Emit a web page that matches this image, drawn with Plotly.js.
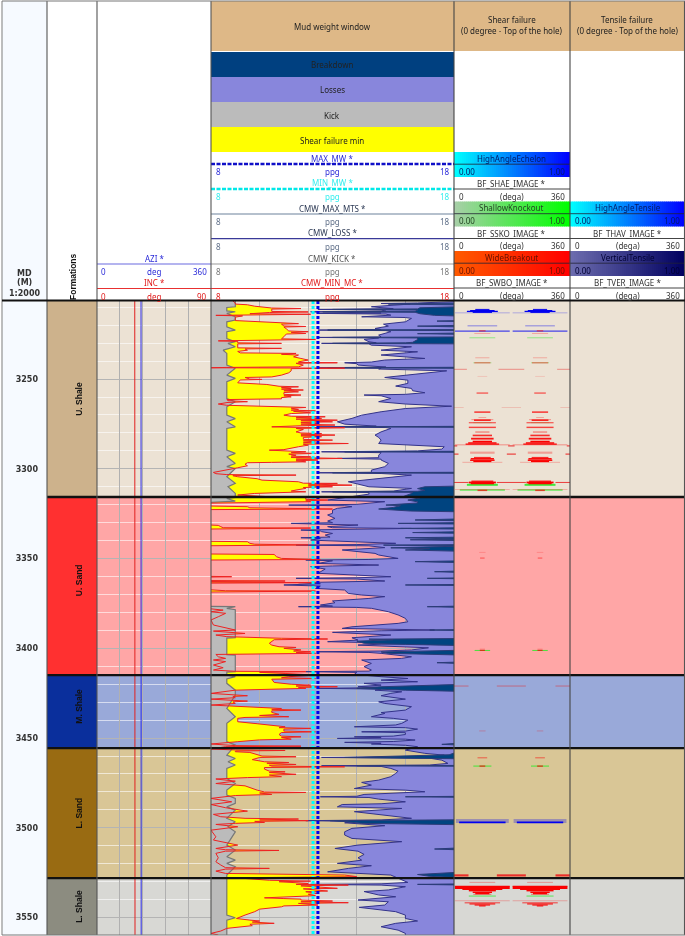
<!DOCTYPE html>
<html><head><meta charset="utf-8">
<script src="https://cdn.plot.ly/plotly-3.0.1.min.js"></script>
<style>html,body{margin:0;padding:0;background:#fff}#chart{width:685px;height:936px;filter:blur(0.35px)}</style>
</head><body><div id="chart"></div>
<script>
// ---------- data ----------
const depthTop = 3206.5, depthBottom = 3559.7;

const formationNames  = ['U. Shale','U. Sand','M. Shale','L. Sand','L. Shale'];
const formationTops   = [3206.5,3315.7,3414.9,3455.6,3528.0];
const formationBases  = [3315.7,3414.9,3455.6,3528.0,3559.7];
const formationLabelDepth = [3261,3362,3432.5,3492,3544];
const formationFill   = ['#ece2d4','#ffa6a6','#99a9d9','#d9c696','#d8d8d4'];
const formationStrip  = ['#cdb28c','#ff3030','#0a2f9c','#996b12','#8c8c80'];

const incDepths = [3206.5,3300,3400,3559.7];
const incDeg    = [29.8,29.9,30.0,30.0];
const aziDepths = [3206.5,3300,3400,3559.7];
const aziDeg    = [139,139,139.5,139.5];

const minMw = [12.2,12.2];
const maxMw = [12.4,12.4];
const mwDepths = [3206.5,3559.7];

// [depth, ppg]
const kickPts = [[3206.5,9],[3209.7,9],[3210.1,8.65],[3212,8.65],[3212.5,9],[3213.4,8.65],[3215.3,9],[3217.1,9],[3218.1,8.65],[3220.9,8.65],[3222.7,9],[3223.6,8.65],[3227.4,8.65],[3229.2,9],[3230.1,8.7],[3232,9],[3233.9,8.5],[3235.7,8.65],[3242.2,8.65],[3244,9],[3247.8,8.65],[3249.6,9],[3251.5,8.65],[3260.8,8.65],[3262.6,9],[3265.4,8.65],[3270.1,8.65],[3272,9],[3273.8,8.65],[3276.6,9],[3277.5,8.65],[3289.6,8.65],[3291.4,9],[3293.3,8.65],[3297,9],[3298.8,8.65],[3299.8,9],[3304.4,8.65],[3308.1,9],[3310,8.7],[3313.7,9],[3316,9],
 [3316.5,8.65],[3318,9],[3319,7.5],[3376.5,7.5],[3376.8,9],[3377.7,8.65],[3378.5,9],[3394,9],[3394.3,8.65],[3403.5,8.65],[3403.8,9],[3413,9],[3413.2,8.65],[3414.9,8.65],
 [3415.8,9],[3417.1,8.65],[3419.5,8.65],[3423.3,9],[3426,9],[3433.5,8.65],[3438.1,9],[3441.8,8.65],[3452,8.65],[3453.9,9],[3459.5,8.65],[3461.4,9],[3463.2,8.7],[3465,9],[3466.9,8.65],[3472.5,8.65],[3475.3,9],[3479,8.65],[3481.8,8.65],[3483.6,9],[3486.4,9],[3488.3,8.65],[3490.1,9],[3494.7,8.65],[3496.6,9],[3499.4,8.7],[3502.2,9],[3509.6,8.65],[3512.4,9],[3516.1,8.65],[3518,9],[3519.8,8.65],[3521.7,9],[3526.3,8.65],[3548.6,8.65],[3550.1,9],[3551.4,8.65],[3559.7,8.65]];

const mcPts = [[3206.5,8.9],[3207.6,9],[3208.2,9],[3208.6,9.5],[3209.4,9.8],[3210,10.4],[3210.4,10.5],[3210.7,11.7],[3211,10.5],[3212.3,10.5],[3212.6,12],[3212.9,10.4],[3213.6,9.6],[3213.9,12.1],[3214.2,9],[3214.5,8.2],[3214.8,9.3],[3215.5,9],[3217.4,9],[3218.1,10],[3218.8,10.9],[3219.1,11.6],[3219.4,10.9],[3220.4,11],[3220.7,11.9],[3221,11],[3222,11.1],[3223.2,11.2],[3223.6,12],[3224,11.3],[3224.6,11.9],[3224.9,11.1],[3226.4,11],[3227.6,10.9],[3227.9,12.3],[3228.2,9.5],[3228.7,8.3],[3229,9.1],[3229.8,9.1],[3230.1,10.9],[3230.4,9.1],[3232.6,9.1],[3232.9,10.9],[3233.2,9.4],[3233.9,9.5],[3234.6,9.1],[3235.4,9.2],[3235.7,11.5],[3236.2,10.9],[3236.6,11.6],[3237.6,11.4],[3238.5,11.7],[3239.4,12],[3240.4,11.6],[3240.7,11.6],[3240.9,13.2],[3241.2,11.5],[3242.2,11.8],[3243.2,11.6],[3243.5,8.65],[3243.7,8],[3243.9,13.5],[3244.2,11.3],[3245.4,11.3],[3246.5,11.2],[3247.8,10.9],[3248.8,10.5],[3249.1,9.4],[3250,9.6],[3250.2,10.1],[3250.5,9.2],[3252.1,9.1],[3253,10.3],[3254,10.8],[3254.3,11.6],[3254.7,10.9],[3255.2,11.3],[3255.6,10.9],[3256.1,11.8],[3256.5,11],[3257.1,11.6],[3257.5,11],[3258.5,11],[3258.9,11.7],[3259.3,11],[3259.9,11.3],[3260.3,10.9],[3261,10.9],[3261.4,8.65],[3262,8.7],[3262.6,9.5],[3263,8.7],[3263.9,8.3],[3264.6,8.65],[3265,10.2],[3265.4,11],[3265.8,11.9],[3266.2,11.3],[3266.9,11.6],[3267.3,11.3],[3267.7,12.3],[3268,11.4],[3268.8,12.1],[3269.2,11.3],[3270.1,11],[3270.7,11.3],[3271,12.7],[3271.3,11.5],[3271.9,12.55],[3272.3,11.5],[3272.9,13.2],[3273.2,11.7],[3273.8,13],[3274.2,11.7],[3274.7,12.4],[3275.1,11.7],[3275.6,13.1],[3276,11.7],[3276.6,10.5],[3276.9,11.5],[3277.1,13.5],[3277.5,11.5],[3278.1,11.8],[3279.4,11.5],[3280,11.7],[3280.3,12.55],[3280.7,11.7],[3281.2,13.1],[3281.6,11.7],[3282.1,12.55],[3282.5,11.8],[3283.6,11.8],[3284,13],[3284.4,11.8],[3284.9,12.3],[3285.5,11.8],[3285.9,13.65],[3286.3,11.8],[3286.8,12],[3287.7,11.6],[3288.6,11.3],[3289.3,11],[3289.6,10.4],[3290,11.2],[3290.5,11.9],[3291,11.3],[3291.4,12.3],[3291.8,11.2],[3292.4,11.5],[3292.9,11.3],[3293.3,12.1],[3293.7,11.3],[3294.2,13.4],[3294.6,11.5],[3295.1,12.4],[3295.5,11.5],[3296.1,11.9],[3296.4,10.5],[3296.6,9.5],[3297.4,9.4],[3298.3,9.5],[3299.4,9.1],[3300.7,8.6],[3302,8.1],[3302.7,8.2],[3303.2,8.65],[3303.5,11.5],[3303.8,8.9],[3304.4,9.1],[3305.5,9.9],[3306.3,10.1],[3307,11.2],[3307.2,11.6],[3308,11.8],[3308.1,13.2],[3308.5,12],[3309.1,13.8],[3309.5,12],[3310,13],[3310.4,11.8],[3310.9,11.9],[3311.8,11.5],[3312.4,11.3],[3312.8,11.9],[3313.2,10.5],[3313.7,9.8],[3314.6,9.1],
 [3315.6,10.5],[3316,11.9],[3317,11.9],[3317.4,12.8],[3317.8,11.9],[3318.3,12.1],[3318.8,9],[3319.2,7.5],[3320.6,7.5],[3321.1,9.5],[3321.7,9.6],[3322.1,11],[3322.4,13],[3322.7,8],[3322.9,7.5],[3331,7.5],[3331.5,8.3],[3332.2,8.4],[3332.8,8.5],[3333,12.1],[3333.3,8],[3333.6,7.5],[3340.3,7.5],[3340.6,9.5],[3341.5,9.6],[3342,9.8],[3342.4,12],[3342.7,8],[3342.9,7.5],[3347.4,7.5],[3347.7,10.6],[3349,10.7],[3349.9,10.9],[3350.3,12],[3350.5,12.5],[3350.8,8],[3351,7.5],[3359.8,7.5],[3360.1,8.85],[3360.4,7.5],[3362.2,7.5],[3362.5,11.05],[3362.8,7.5],[3363.1,7.5],[3363.4,12.3],[3363.7,7.5],[3367,7.5],[3367.5,8.6],[3367.9,8.6],[3368.1,12.3],[3368.4,8],[3368.7,7.5],[3377.3,7.5],[3378.7,8.5],[3379.6,8],[3380.5,8.6],[3382.4,8.3],[3384.2,8],[3387,8.1],[3389.8,9],[3390.4,8.1],[3391.7,9.4],[3392.6,8.2],[3393.5,8.65],[3394.4,10.9],[3394.8,12.8],[3395.2,10.6],[3396,10.5],[3397.2,10.4],[3398.2,10.5],[3399.1,10.8],[3399.5,11.5],[3400,11],[3400.9,11.7],[3401.5,11.4],[3401.9,12.1],[3402.4,11.5],[3402.8,12.3],[3403.2,9],[3403.4,8.2],[3404.7,8.3],[3405.6,8.6],[3406.5,8.1],[3407.4,8.6],[3409.3,8.1],[3410.8,8.5],[3412.1,8.1],[3412.8,9],[3413,11.9],[3413.4,10],[3414,11.05],[3414.9,12.3],
 [3415.8,11.2],[3416.4,10.9],[3416.8,12.3],[3417.2,10.5],[3419,10.6],[3420,11.3],[3420.5,12.1],[3421,11.5],[3421.4,13.2],[3421.8,11.6],[3422.3,11.9],[3422.8,10],[3423.3,9],[3425.1,8],[3426,8.8],[3426.4,9.5],[3426.8,8.9],[3427.5,9],[3428.3,8],[3429,8.9],[3429.4,9.5],[3429.8,8.9],[3430.7,9],[3431.6,8],[3432.5,9.3],[3433.1,10.4],[3433.5,10.9],[3434,10.5],[3434.4,11.7],[3434.8,10.5],[3435.7,10.5],[3436.8,10.8],[3437.4,10],[3438.1,11.2],[3438.5,9.4],[3439,9.1],[3440.9,9.1],[3442,9.9],[3442.8,10.5],[3443.7,11.05],[3444.2,10.8],[3444.6,12.1],[3445,11],[3446.1,11],[3446.5,12.3],[3446.9,10.9],[3448,10.8],[3448.9,10.9],[3449.3,11.7],[3449.7,10.9],[3450.6,11.3],[3451,10],[3452,9.1],[3453.3,8],[3454.2,9],[3454.5,11.7],[3454.8,8.6],
 [3456.1,8],[3456.6,9],[3456.9,11.05],[3457.2,9],[3457.6,9],[3458,9.6],[3459.5,10],[3460,10.1],[3460.4,11.5],[3460.8,10],[3462,9.7],[3462.3,9.8],[3463.2,10.2],[3463.6,11.2],[3464,10.3],[3464.7,11.5],[3465.1,10.4],[3465.6,10.5],[3466,13.5],[3466.4,10.2],[3467.3,10.2],[3468.4,10.4],[3468.8,11.05],[3469.2,10.4],[3470.2,11.5],[3470.6,10.4],[3471.5,10.9],[3472,9.5],[3472.8,8.2],[3474,9],[3475.3,8.2],[3476.6,9.4],[3477.7,9.6],[3479,9.9],[3480,10.2],[3480.3,11.9],[3480.6,10],[3481.4,10.5],[3482,9],[3482.7,8.6],[3483.6,8],[3485.5,8.85],[3487,8],[3488.8,8.6],[3490.7,9.5],[3492.5,8.1],[3493.8,8.4],[3494.7,9.4],[3495.1,11.6],[3495.6,10],[3496,12],[3496.4,9.8],[3497,10.2],[3497.5,9],[3498.1,8.2],[3499.4,9.1],[3501.3,8],[3505,8.2],[3506.8,8.1],[3509.6,9.1],[3511.5,8.2],[3512.2,8.6],[3512.6,10.8],[3513,8.6],[3514.2,8.2],[3516.7,8.3],[3518.9,8.2],[3520.7,8.4],[3522.2,8.6],[3522.6,10.4],[3523,8.6],[3524.1,8.2],[3525.4,8.6],[3526.3,13.5],[3527.2,14],[3527.8,9],
 [3528.5,9.8],[3529.2,10.4],[3529.7,12.1],[3530,10.8],[3531,12],[3531.5,11.5],[3531.9,13.65],[3532.3,11.7],[3533.7,13.2],[3534,11.8],[3535.2,12.8],[3535.6,11.9],[3536.5,12.4],[3537,12],[3537.8,12.3],[3538.3,11.2],[3539,10.2],[3539.4,11],[3539.7,11.7],[3540.2,11.7],[3540.8,13],[3541.2,11.7],[3541.7,13.65],[3542.1,11.6],[3543,12.4],[3543.5,11],[3544,10.9],[3545.3,10],[3546.7,9.8],[3548.6,9.4],[3550.5,9.05],[3551.4,9.6],[3551.9,10],[3552.5,9.7],[3553.2,10.6],[3553.7,9.6],[3554.5,9.7],[3556,8.65],[3557.5,8.4],[3558.8,8],[3559.7,8.3]];

const lossPts = [[3206.5,18],[3206.9,18],[3207.6,16.5],[3207.9,15],[3208.2,16.2],[3208.4,16],[3209.4,15.2],[3209.7,14.6],[3210.8,15.5],[3211.2,12.4],[3211.5,15],[3212.2,15.2],[3212.5,12.1],[3212.8,15],[3213.2,15],[3213.4,12.4],[3213.8,15.2],[3214.4,15.4],[3215.3,14.2],[3215.7,16],[3216.2,16.25],[3218.1,16],[3219.4,15.1],[3220.5,15.3],[3221.8,14.75],[3222.4,15],[3222.7,12.4],[3223,15.2],[3223.6,15.4],[3225.5,14.9],[3226.5,15],[3226.8,12.4],[3227.1,14.9],[3227.9,14.3],[3229.2,14.5],[3229.8,14.8],[3230.1,12.55],[3230.4,14.5],[3231.1,14.6],[3232,16.25],[3233.9,15],[3234.8,16.5],[3236.6,15],[3238.5,16.8],[3239.4,15.15],[3240.5,14.6],[3240.9,13.5],[3241.4,14],[3242.2,14.05],[3243.3,15.2],[3243.7,12.4],[3244,15],[3244.4,14.9],[3245.4,17.7],[3246.9,16.65],[3249.1,15.15],[3250.6,16.1],[3252.4,16.1],[3253.9,15.6],[3255.2,16.25],[3256.5,16.3],[3257.6,16.8],[3258.5,16],[3258.9,14.3],[3259.3,15],[3259.9,15.15],[3260.8,15.4],[3262.6,14.9],[3263.9,16],[3265.1,17.9],[3266.4,16],[3268.2,15],[3270.1,14.2],[3271.9,13.8],[3273.8,13.2],[3275.1,13.5],[3276.2,14.8],[3276.6,12.4],[3277,15.2],[3277.5,15.4],[3279.4,15],[3281.2,14.75],[3282.5,14.9],[3284,15],[3285.9,14.9],[3287.7,17.6],[3289,17.5],[3290,16.5],[3290.5,12.55],[3291,15],[3292.4,14.9],[3293.8,14.9],[3294.2,13.2],[3294.6,15],[3295.1,15],[3297,15.3],[3298.8,15.15],[3300.7,14.6],[3301.9,14.6],[3302.2,12.4],[3302.6,15],[3303.5,16.25],[3305.4,14.75],[3307.2,13.65],[3308.5,14.05],[3310,14.5],[3310.9,16.25],[3312.4,15.5],[3312.8,12.55],[3313.2,14.5],[3314.1,14.5],
 [3317,13],[3317.4,12.8],[3318.3,15.15],[3319.8,14],[3320.2,11.2],[3320.6,13.5],[3321.1,13.8],[3322,13.2],[3323,13],[3324.8,13],[3325.7,12.8],[3327.6,13.1],[3329.1,12.8],[3330,13],[3330.4,11.3],[3330.8,13.5],[3331.3,14.05],[3332.2,12.8],[3332.8,13],[3333.2,16.25],[3333.6,13],[3334.1,11.7],[3334.6,12.5],[3335,12.55],[3336,13],[3336.9,12.7],[3338,12.9],[3338.4,11.7],[3338.8,12.5],[3339.7,12.1],[3341.5,15.6],[3342.2,14],[3342.5,11.5],[3342.9,14.5],[3343.9,15.15],[3345.2,13.4],[3347.1,14.75],[3348,14.9],[3349.9,15.7],[3350.5,14.5],[3350.8,11.9],[3351.2,13],[3352.7,12.4],[3353.2,13.5],[3353.6,14.9],[3354.1,13],[3354.5,12.1],[3355.8,12.7],[3358.2,12.4],[3360.1,15.4],[3360.7,14],[3361,11.5],[3361.4,14],[3362.5,15.15],[3363,13],[3363.4,11.6],[3364,12.5],[3364.7,11],[3365.3,12.5],[3366.6,12.3],[3367.5,13.5],[3369.4,13.65],[3370.3,14.2],[3371.2,15.15],[3372.2,14.5],[3373.6,13],[3374.6,13.1],[3375.9,12.5],[3376.5,13],[3376.8,11.6],[3377.2,14],[3377.7,14.6],[3379.6,15.3],[3381.4,15.7],[3383.3,16],[3385.2,16.1],[3386.1,15.7],[3388,13.8],[3388.9,13.4],[3389.4,15],[3389.8,17.2],[3390.2,15],[3391.1,13],[3392.6,15.4],[3394.1,13.8],[3395.4,14.05],[3396.3,12.8],[3396.8,14.5],[3397.2,17.2],[3397.7,15],[3398.2,14.05],[3399.7,16.95],[3400.9,16.25],[3401.5,15],[3401.9,12.4],[3402.3,14.5],[3402.8,15],[3404.7,16.25],[3405.6,15.85],[3406.5,14.2],[3408.4,14.6],[3410.2,14.3],[3412.1,14.6],[3412.7,14.5],[3413,11.9],[3413.4,14],[3414.5,13.9],
 [3415.8,15],[3416.8,16.1],[3417.7,15],[3418.6,16.5],[3419.5,14.3],[3420.5,15],[3421.4,14.05],[3421.9,15],[3422.3,12.4],[3422.7,15],[3423.3,14.75],[3424.2,15.85],[3425.1,15.4],[3426.4,15],[3428.3,16],[3429.8,14.9],[3430.7,15.15],[3432.5,16.25],[3434.4,16],[3435.8,15],[3436.3,15.15],[3438.1,14.6],[3439,15.5],[3440,16.1],[3441.8,15.85],[3442.7,15.6],[3443.7,13.9],[3444.2,16],[3445,16.5],[3446.1,16],[3446.5,14.2],[3447,16],[3448,16],[3448.9,15.5],[3449.3,13.9],[3449.7,15],[3450.2,13.2],[3450.6,16],[3451.1,16.4],[3451.9,15.5],[3452.4,13.5],[3452.9,15],[3453.3,14.6],[3454,16],[3454.8,16.5],
 [3456.7,16],[3458.5,16.8],[3459.5,17.6],[3460.4,17],[3460.8,12.55],[3461.2,17],[3462.3,17.5],[3464.1,17.75],[3465,17],[3465.4,12.55],[3465.8,15],[3466.9,15.4],[3468.4,15.7],[3469.7,15.6],[3471.5,15.4],[3473.4,14.9],[3474.7,14.2],[3476.2,14.6],[3478.1,13.9],[3479,16],[3479.9,16.8],[3481.4,14.3],[3482.4,14],[3482.7,12.5],[3483.1,14.5],[3484,14.9],[3485.5,16],[3486.6,15],[3487,13.4],[3488.3,13.2],[3488.8,15],[3489.2,15.85],[3491,13.9],[3492.9,15.15],[3494.7,16.25],[3495.6,15],[3496,11.9],[3496.4,14],[3497.2,13.5],[3498.8,15.15],[3500.3,13.8],[3502.2,13.5],[3504,13.5],[3505.9,13.8],[3507.7,15.85],[3509.6,14.05],[3511.5,13.1],[3513,14.05],[3514.8,14.3],[3516.7,14.05],[3518,14.2],[3519.8,13.2],[3521.1,14.6],[3522.6,13.65],[3524.5,12.8],[3526.3,15.4],
 [3529.1,15.85],[3530.4,16.1],[3531.2,15],[3531.5,12.1],[3531.9,15],[3532.8,16],[3534.6,15.3],[3535.5,14.3],[3537.4,14.9],[3538.4,15.6],[3540.2,14.05],[3541.2,15.3],[3543,15.15],[3544.3,14.1],[3546.7,15.6],[3548.6,16],[3550.5,16],[3551.9,16.5],[3553.2,15.6],[3555.1,15],[3557,15.7],[3558.8,16],[3559.7,16]];

const mtsPts = [[3206.5,18.5],[3207.6,18.5],[3208.2,15.3],[3208.7,18.5],[3209.6,18.5],[3210.3,16.6],[3210.9,16.5],[3211.2,13],[3211.5,16.5],[3212.2,16.4],[3212.5,12.6],[3212.8,16.4],[3213.6,16.6],[3214.5,17.2],[3215,18.5],[3217.3,18.5],[3217.7,17.3],[3218,18.5],[3220,18.5],[3220.5,16.5],[3221,18.5],[3222.4,18.5],[3222.7,12.8],[3223,18.5],[3224.3,18.5],[3224.7,16.5],[3225.1,18.5],[3226.5,18.5],[3226.8,13],[3227.1,16.5],[3228,16.5],[3229.5,16.3],[3229.8,16],[3230.1,13],[3230.4,18.5],[3243.4,18.5],[3243.7,12.8],[3244,18.5],[3276.3,18.5],[3276.6,13.5],[3276.9,18.5],[3290.2,18.5],[3290.5,13.5],[3290.8,18.5],[3301.9,18.5],[3302.2,13],[3302.5,18.5],[3309.5,18.5],[3310,16.8],[3311,16.5],[3312,16.8],[3312.5,16.5],[3312.8,13],[3313.1,16.3],[3314,16.2],[3315.5,15.9],[3316.2,16.6],[3317.4,16.1],
 [3318.4,16.5],[3319,16.5],[3319.9,15.6],[3320.2,15.2],[3320.5,15.8],[3321.5,15.5],[3322.4,14.9],[3323,15.8],[3323.5,16.2],[3324,18.5],[3327.8,18.5],[3328.5,16.4],[3329,18.5],[3329.9,18.5],[3330.4,15.7],[3330.8,18.5],[3332.8,18.5],[3333.2,15.8],[3333.6,18.5],[3335,18.5],[3335.5,16.3],[3336,18.5],[3338,18.5],[3338.4,16],[3338.9,18.5],[3339.2,18.5],[3339.5,16.2],[3340,18.5],[3342.2,18.5],[3342.5,15.1],[3343,18.5],[3343.3,17],[3344,15.4],[3344.5,17],[3345.2,16],[3346,18.5],[3351.2,18.5],[3351.7,16.4],[3352.3,18.5],[3356.8,18.5],[3357.3,17.2],[3357.8,18.5],[3360.7,18.5],[3361,16.9],[3361.3,18.5],[3364.4,18.5],[3364.7,16],[3365,18.5],[3376.4,18.5],[3376.8,16.9],[3377.2,18.5],[3389.5,18.5],[3389.8,17],[3390.1,18.5],[3394.5,18.5],[3394.9,14.5],[3395.2,15.5],[3396,14],[3397.2,14.3],[3397.8,16],[3398.5,18.5],[3401,18.5],[3402,15],[3402.8,15.3],[3403.8,18.5],[3407.5,18.5],[3408,17.3],[3408.6,18.5],
 [3420,18.5],[3421.4,15],[3422.3,14],[3423.3,16],[3424,18.5],[3452.5,18.5],[3453.5,17.5],[3454,18.5],[3456,18.5],[3459.3,17.8],[3460.8,13.5],[3461.5,18],[3462,18.5],[3465.2,18.5],[3465.4,14],[3465.7,18.5],[3482.4,18.5],[3482.7,16],[3483,18.5],[3495.5,18.5],[3496,12.9],[3496.5,13.5],[3497.5,14.2],[3498.3,18.5],[3511,18.5],[3511.8,17.2],[3512.4,18.5],[3524.5,18.5],[3526,16.5],[3527,17],[3528,18.5],[3531.2,18.5],[3531.5,16.5],[3531.9,18.5],[3559.7,18.5]];

// shear-failure events: [depth, half width deg, thickness m, opacity]
const echelonEvents = [[3211.3,22,.8,.9],[3211.9,38,.8,1],[3212.3,48,.7,1],[3212.8,30,.8,.9],[3213.1,85,.4,.35],[3220.3,46,.8,.3],[3223.3,85,.6,.7],[3496.2,82,2.2,.28],[3496.9,72,1,1]];
const knockoutEvents = [[3227,40,.5,.5],[3240.9,28,.6,.35],[3274.3,28,.5,.35],[3308.9,48,1.1,.9],[3311.8,70,.9,.7],[3401.2,24,.6,.8],[3465.6,28,.6,.8],[3538,42,.5,.8]];
const breakoutEvents = [[3223.1,10,.8,.5],[3224.6,25,.6,.25],[3238.1,22,.7,.2],[3240.9,25,.8,.4],[3248.5,15,.5,.15],[3257.8,18,1,.45],[3268.4,25,.8,.8],[3271.4,12,.5,.3],[3272.6,34,.6,.35],[3272.9,26,.8,.9],[3274.3,42,.7,.6],[3276.9,42,.8,.7],[3279.5,22,.8,.4],[3281.4,30,.9,.8],[3283.2,35,1,.9],[3284.8,30,.9,1],[3285.6,44,.8,1],[3286.2,52,.7,1],[3286.6,85,.8,.25],[3291,38,1.2,.3],[3293.7,26,.7,.8],[3294.4,36,.8,1],[3295.2,38,.8,1],[3295.9,28,.7,1],[3296.4,62,.6,.2],[3306.9,34,.7,1],[3307.6,42,1,1],[3308.2,36,.8,1],[3311.5,85,.6,.22],[3312,15,.8,.7],
 [3346.5,10,.4,.25],[3349.7,7,.5,.6],[3400.5,8,.5,.4],[3401.2,8,.5,.8],[3446,10,.7,.2],[3461,15,.5,.6],[3465.6,9,.6,.9],[3530.4,40,.6,.3],[3532.6,85,.8,1],[3533.4,85,1.3,1],[3534.3,62,.8,1],[3535,42,.8,1],[3535.9,30,.8,1],[3536.6,22,.8,1],[3537,28,.5,.55],[3540.6,85,.5,.25],[3541.8,55,.5,1],[3542.4,40,.6,1],[3543,24,.6,1],[3543.5,10,.6,1]];
const breakoutBands = [[3244.6,40,.7,.35],[3265.8,30,.5,.2],[3287.2,10,.9,.6],[3291.8,14,.7,.8],[3307.6,45,.6,.8],[3421,45,.5,.5],[3526.5,45,1.2,.9]];
const lobeCentres = [88,267];
const bandCentres = [0,178,360];

// headers
const legendBands = [['Breakdown','#004080'],['Losses','#8886dc'],['Kick','#bbbbbb'],['Shear failure min','#ffff00']];
const mudCurves = [['MAX_MW *','#2a2ad8','#2a2ad8','#1010c8'],['MIN_MW *','#33eeee','#33eeee','#00e8e8'],['CMW_MAX_MTS *','#2d3a55','#5f6f88','#6c819c'],['CMW_LOSS *','#2d3a55','#5f6f88','#3a3a98'],['CMW_KICK *','#555555','#777777','#9a9a9a'],['CMW_MIN_MC *','#e01a1a','#e01a1a','#e83030']];
const angleCurves = [['AZI *','#2a2ad8','360','#6a6ae0'],['INC *','#e01a1a','90','#e83030']];
const shearBands = [['HighAngleEchelon','BF_SHAE_IMAGE *','#00ffff','#0000ff','#001a66'],['ShallowKnockout','BF_SSKO_IMAGE *','#a8cfa8','#00ff00','#224422'],['WideBreakout','BF_SWBO_IMAGE *','#ff5a00','#ff0000','#661100']];
const tensileBands = [['HighAngleTensile','BF_THAV_IMAGE *','#00ffff','#0000ff','#001a66'],['VerticalTensile','BF_TVER_IMAGE *','#6c6cae','#000060','#000033']];

// ---------- layout helpers ----------
const W = 685, H = 936;
const px = v => v / W, py = v => 1 - v / H;
const UI = '"Noto Sans",sans-serif', BOLD = '"DejaVu Sans",sans-serif', LABEL = '"Liberation Sans",sans-serif';
const depthsOf = p => p.map(r => r[0]), valuesOf = p => p.map(r => r[1]);
const shapes = [], annotations = [];

function rect(x0, y0, x1, y1, fill, layer) {
  shapes.push({type:'rect', xref:'paper', yref:'paper', x0:px(x0), x1:px(x1), y0:py(y0), y1:py(y1), fillcolor:fill, line:{width:0}, layer:layer||'below'});
}
function hline(x0, x1, y, color, width, dash) {
  shapes.push({type:'line', xref:'paper', yref:'paper', x0:px(x0), x1:px(x1), y0:py(y), y1:py(y), line:{color, width:width||1, dash:dash||'solid'}, layer:'above'});
}
function vline(x, y0, y1, color, width) {
  shapes.push({type:'line', xref:'paper', yref:'paper', x0:px(x), x1:px(x), y0:py(y0), y1:py(y1), line:{color, width:width||1}, layer:'above'});
}
function note(x, y, text, color, anchor, size, family, angle) {
  annotations.push({xref:'paper', yref:'paper', x:px(x), y:py(y), text, showarrow:false, xanchor:anchor||'center', yanchor:'middle',
    textangle:angle||0, borderpad:0, font:{family:family||UI, size:size||8, color:color||'#222'}});
}
function hex(c){return [1,3,5].map(i=>parseInt(c.substr(i,2),16));}
function gradient(x0, x1, y0, y1, c0, c1) {
  const a = hex(c0), b = hex(c1);
  for (let x = x0; x < x1; x += 2) {
    const t = (x - x0) / (x1 - x0 - 2 || 1);
    const c = a.map((v,i)=>Math.round(v + (b[i]-v)*t));
    rect(x, y0, Math.min(x+2.5, x1), y1, `rgb(${c.join(',')})`);
  }
}

// ---------- body backgrounds ----------
rect(2, 1, 47, 935, '#f6faff');
formationNames.forEach((n,i) => {
  shapes.push({type:'rect', xref:'paper', yref:'y', x0:px(97), x1:1, y0:formationTops[i], y1:formationBases[i], fillcolor:formationFill[i], line:{width:0}, layer:'below'});
  shapes.push({type:'rect', xref:'paper', yref:'y', x0:px(47), x1:px(97), y0:formationTops[i], y1:formationBases[i], fillcolor:formationStrip[i], line:{width:0}, layer:'below'});
  annotations.push({xref:'paper', yref:'y', x:px(72), y:formationLabelDepth[i], text:'<b>'+n+'</b>', showarrow:false, textangle:-90,
    font:{family:LABEL, size:8.5, color:'#111'}});
  if (i) shapes.push({type:'line', xref:'paper', yref:'y', x0:px(47), x1:1, y0:formationTops[i], y1:formationTops[i], line:{color:'#111', width:2.4}, layer:'above'});
});

// ---------- header ----------
rect(211, 1, 454, 51, '#deb887'); rect(454, 1, 570, 51, '#deb887'); rect(570, 1, 685, 51, '#deb887');
note(332, 26, 'Mud weight window');
note(512, 19.5, 'Shear failure'); note(512, 31, '(0 degree - Top of the hole)');
note(627, 19.5, 'Tensile failure'); note(627, 31, '(0 degree - Top of the hole)');
legendBands.forEach((b,i) => { const y0 = 52 + i*25; rect(211, y0, 454, y0+25, b[1]); note(332, y0+13, b[0], '#222'); });

const mudLineY = [164,189,214,238.7,264,288.5];
mudCurves.forEach((c,i) => {
  const y = mudLineY[i];
  note(332, y-6, c[0], c[1]);
  const dashed = i < 2;
  hline(211, 454, y, c[3], dashed ? 2.6 : 1.2, dashed ? '4px,1.5px' : 'solid');
  note(215, y+7.5, '8', c[2], 'left'); note(332, y+7.5, 'ppg', c[2]); note(451, y+7.5, '18', c[2], 'right');
});
angleCurves.forEach((c,i) => {
  const y = mudLineY[4+i];
  note(154, y-6, c[0], c[1]);
  hline(97, 211, y, c[3], 1.2);
  note(100, y+7.5, '0', c[1], 'left'); note(154, y+7.5, 'deg', c[1]); note(208, y+7.5, c[2], c[1], 'right');
});
function failureHeader(b, x0, x1, topY) {
  const cx = (x0+x1)/2;
  gradient(x0, x1, topY, topY+25, b[2], b[3]);
  hline(x0, x1, topY+12.2, '#223', 0.8);
  note(cx, topY+6, b[0], b[4]);
  note(x0+4, topY+19, '0.00', b[4], 'left'); note(x1-4, topY+19, '1.00', b[4], 'right');
  note(cx, topY+31.5, b[1], '#333');
  hline(x0, x1, topY+37, '#444', 1);
  note(x0+4, topY+44.5, '0', '#333', 'left'); note(cx, topY+44.5, '(dega)', '#333'); note(x1-4, topY+44.5, '360', '#333', 'right');
}
shearBands.forEach((b,i) => failureHeader(b, 454, 570, 152 + i*49.5));
tensileBands.forEach((b,i) => failureHeader(b, 570, 685, 201.5 + i*49.5));

note(24, 273, '<b>MD</b>', '#333', 'center', 8, BOLD);
note(24, 282, '<b>(M)</b>', '#333', 'center', 8, BOLD);
note(24, 293, '<b>1:2000</b>', '#333', 'center', 8, BOLD);
note(73, 277, '<b>Formations</b>', '#111', 'center', 8.5, LABEL, -90);

// frame
[[2,'#888'],[47,'#555'],[97,'#555'],[211,'#555'],[454,'#444'],[570,'#444'],[684.5,'#555']].forEach(v => vline(v[0], 1, 935, v[1], 1.1));
hline(2, 685, 1, '#777', 1);
hline(2, 685, 300.5, '#111', 2.2);
hline(2, 685, 935, '#777', 1);

// ---------- traces ----------
const common = {mode:'lines', hoverinfo:'skip', showlegend:false};
const mud = {xaxis:'x2', yaxis:'y'};
const edge = () => Object.assign({}, common, mud, {x:[18,18], y:[depthTop,depthBottom], line:{width:0}});
const traces = [];

traces.push(Object.assign({}, common, {x:aziDeg, y:aziDepths, xaxis:'x', yaxis:'y', line:{color:'#2a2ae8', width:1}}));
traces.push(Object.assign({}, common, {x:incDeg, y:incDepths, xaxis:'x5', yaxis:'y', line:{color:'#e02020', width:1}}));

traces.push(edge());
traces.push(Object.assign({}, common, mud, {x:valuesOf(lossPts), y:depthsOf(lossPts), fill:'tonextx', fillcolor:'#8886dc', line:{color:'#33338a', width:1}}));
traces.push(edge());
traces.push(Object.assign({}, common, mud, {x:valuesOf(mtsPts), y:depthsOf(mtsPts), fill:'tonextx', fillcolor:'#004480', line:{color:'#2c3c78', width:1}}));
traces.push(Object.assign({}, common, mud, {x:valuesOf(mcPts), y:depthsOf(mcPts), fill:'tozerox', fillcolor:'#ffff00', line:{width:0}}));
traces.push(Object.assign({}, common, mud, {x:valuesOf(kickPts), y:depthsOf(kickPts), fill:'tozerox', fillcolor:'#bbbbbb', line:{color:'#777', width:1.2}}));
traces.push(Object.assign({}, common, mud, {x:valuesOf(mcPts), y:depthsOf(mcPts), line:{color:'#ee2222', width:1}}));
traces.push(Object.assign({}, common, mud, {x:minMw, y:mwDepths, line:{color:'#00ffff', width:3, dash:'3px,2px'}}));
traces.push(Object.assign({}, common, mud, {x:maxMw, y:mwDepths, line:{color:'#0000ee', width:3, dash:'3px,2px'}}));

function failureBars(events, colour, centres) {
  centres.forEach(c => traces.push({type:'bar', orientation:'h', xaxis:'x3', yaxis:'y2', hoverinfo:'skip', showlegend:false,
    y:events.map(e=>e[0]), x:events.map(e=>e[1]*2), base:events.map(e=>c-e[1]), width:events.map(e=>e[2]),
    marker:{color:events.map(e=>`rgba(${colour},${e[3]})`), line:{width:0}}}));
}
failureBars(echelonEvents, '0,0,240', lobeCentres);
failureBars(knockoutEvents, '40,235,40', lobeCentres);
failureBars(breakoutEvents, '250,0,0', lobeCentres);
failureBars(breakoutBands, '235,30,30', bandCentres);

const hiddenX = {showticklabels:false, ticks:'', showline:false, zeroline:false, anchor:'y', fixedrange:true};
const layout = {
  width:W, height:H, autosize:false, margin:{l:0,r:0,t:0,b:0,pad:0},
  paper_bgcolor:'#fff', plot_bgcolor:'rgba(0,0,0,0)', barmode:'overlay', showlegend:false,
  xaxis:Object.assign({}, hiddenX, {domain:[px(97),px(211)], range:[0,360], dtick:72, showgrid:true, gridcolor:'#b0b0b0', gridwidth:1}),
  xaxis5:Object.assign({}, hiddenX, {overlaying:'x', domain:[px(97),px(211)], range:[0,90], showgrid:false}),
  xaxis2:Object.assign({}, hiddenX, {domain:[px(211),px(454)], range:[8,18], dtick:2, showgrid:true, gridcolor:'#b0b0b0', gridwidth:1}),
  xaxis3:Object.assign({}, hiddenX, {anchor:'y2', domain:[px(454),px(570)], range:[0,360], showgrid:false}),
  yaxis:{domain:[py(935),py(301)], range:[depthBottom,depthTop], anchor:'free', position:px(38), side:'left', dtick:50, tick0:0,
    showgrid:true, gridcolor:'#b4b4b4', gridwidth:1, zeroline:false, showline:false, ticks:'', tickformat:'d', automargin:false,
    tickfont:{family:BOLD, size:8, color:'#333', weight:'bold'},
    minor:{dtick:10, showgrid:true, gridcolor:'rgba(255,255,255,0.6)', gridwidth:1}, fixedrange:true},
  yaxis2:{domain:[py(935),py(301)], range:[depthBottom,depthTop], matches:'y', anchor:'x3', showticklabels:false, ticks:'', showgrid:false, zeroline:false, showline:false, fixedrange:true},
  shapes, annotations
};
Plotly.newPlot('chart', traces, layout, {displayModeBar:false, staticPlot:true});
</script></body></html>
